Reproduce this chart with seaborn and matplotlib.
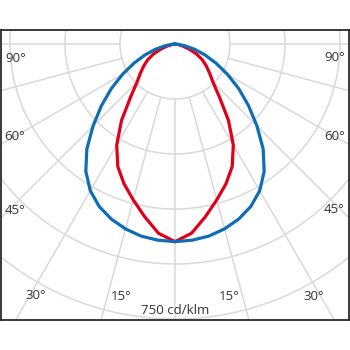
import numpy as np
import pandas as pd
import matplotlib
matplotlib.use("Agg")
import matplotlib.pyplot as plt
import seaborn as sns

# ---- data (cd/klm, gamma angle from nadir, symmetric) ----
angles_deg = [0, 5, 10, 15, 20, 25, 30, 35, 40, 45, 50, 55, 60, 65, 70, 75, 80, 85, 90]
blue_cd = [539, 537, 532, 522, 508, 489, 462, 424, 374, 316, 262, 212, 165, 123, 87, 55, 27, 8, 0]
red_cd = [539, 518, 478, 440, 406, 369, 318, 254, 188, 146, 123, 104, 86, 65, 42, 22, 8, 2, 0]

ring_values = [150, 300, 450, 600, 750]
spoke_angles = [-90, -75, -60, -45, -30, -15, 0, 15, 30, 45, 60, 75, 90]
label_texts = ["90°", "60°", "45°", "30°", "15°"]
unit_label = "750 cd/klm"

BLUE = "#0f6db5"
RED = "#e1001a"
GRID = "#d9d9d9"
TXT = "#333333"

sns.set_theme(style="white")
plt.rcParams['font.family'] = ['Open Sans', 'DejaVu Sans']

fig = plt.figure(figsize=(3.5, 3.5), dpi=100)
ax = fig.add_axes([1/350, 30/350, 348/350, 290/350])

# ---- build curves (mirror to both sides) ----
rows = []
for name, vals in [("red", red_cd), ("blue", blue_cd)]:
    g = [-a for a in reversed(angles_deg)] + angles_deg[1:]
    v = list(reversed(vals)) + vals[1:]
    for i, (gg, rr) in enumerate(zip(g, v)):
        t = np.deg2rad(gg)
        rows.append({"curve": name, "order": i,
                     "x": rr * np.sin(t), "y": -rr * np.cos(t)})
df = pd.DataFrame(rows)

# ---- grid ----
phi = np.linspace(0, 2 * np.pi, 721)
for rv in ring_values:
    ax.plot(rv * np.cos(phi), rv * np.sin(phi), color=GRID, lw=1.1, zorder=1)
for a in spoke_angles:
    t = np.deg2rad(a)
    r0, r1 = ring_values[0], 2000
    ax.plot([r0 * np.sin(t), r1 * np.sin(t)], [-r0 * np.cos(t), -r1 * np.cos(t)],
            color=GRID, lw=1.1, zorder=1)

# ---- curves ----
sns.lineplot(data=df[df.curve == "red"], x="x", y="y", sort=False, estimator=None,
             color=RED, lw=2.3, ax=ax, zorder=3, solid_joinstyle="round")
sns.lineplot(data=df[df.curve == "blue"], x="x", y="y", sort=False, estimator=None,
             color=BLUE, lw=2.3, ax=ax, zorder=4, solid_joinstyle="round")

ax.set_xlim(-474.5, 474.5)
ax.set_ylim(-752.7, 38.2)
ax.set_xticks([])
ax.set_yticks([])
ax.set_xlabel("")
ax.set_ylabel("")
for s in ax.spines.values():
    s.set_color("#2a2a2a")
    s.set_linewidth(1.3)

# ---- labels (pixel positions -> axes fraction) ----
def fx(px):
    return (px - 1) / 348
def fy(py):
    return (320 - py) / 290

left_pos = [(15.5, 58.5), (15, 136.5), (15, 210), (36, 295.5), (121, 296)]
right_pos = [(334.7, 58), (334.5, 136.5), (334.5, 209.5), (314, 296), (229, 296)]
for txt, (lx, ly), (rx, ry) in zip(label_texts, left_pos, right_pos):
    ax.text(fx(lx), fy(ly), txt, transform=ax.transAxes, ha="center", va="center",
            fontsize=9.5, color=TXT, zorder=5)
    ax.text(fx(rx), fy(ry), txt, transform=ax.transAxes, ha="center", va="center",
            fontsize=9.5, color=TXT, zorder=5)
ax.text(fx(175), fy(310.5), unit_label, transform=ax.transAxes, ha="center", va="center",
        fontsize=9.5, color=TXT, zorder=5)

fig.savefig("out.png", dpi=100, facecolor="white")
